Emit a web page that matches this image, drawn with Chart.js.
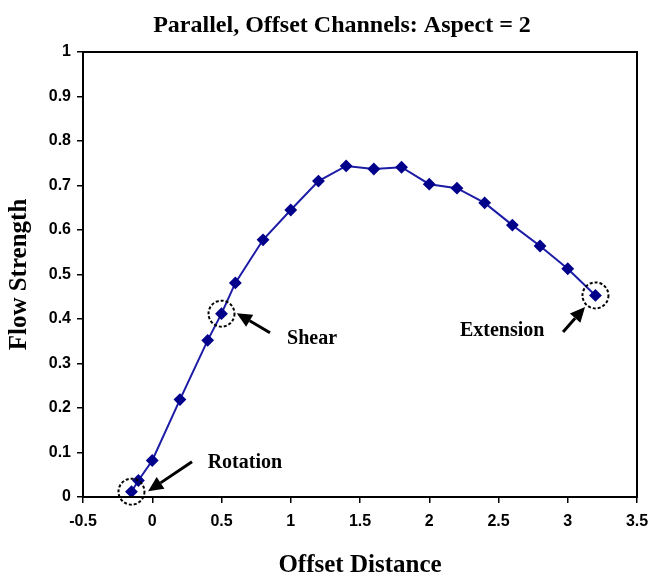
<!DOCTYPE html>
<html>
<head>
<meta charset="utf-8">
<script src="https://cdn.jsdelivr.net/npm/chart.js@4.4.1/dist/chart.umd.min.js"></script>
<style>
  html, body { margin: 0; padding: 0; background: #fff; }
</style>
</head>
<body>
<canvas id="grafica" width="651" height="582"></canvas>
<script>
const offsetDistance = [-0.15, -0.1, 0, 0.2, 0.4, 0.5, 0.6, 0.8, 1.0, 1.2, 1.4, 1.6, 1.8, 2.0, 2.2, 2.4, 2.6, 2.8, 3.0, 3.2];
const flowStrength = [0.012, 0.037, 0.082, 0.219, 0.352, 0.412, 0.481, 0.578, 0.645, 0.71, 0.744, 0.737, 0.741, 0.703, 0.694, 0.661, 0.611, 0.564, 0.513, 0.453];
const xTicks = [-0.5, 0, 0.5, 1, 1.5, 2, 2.5, 3, 3.5];
const yTicks = [0, 0.1, 0.2, 0.3, 0.4, 0.5, 0.6, 0.7, 0.8, 0.9, 1];
const markedPoints = [0, 5, 19];
const markLabels = ['Rotation', 'Shear', 'Extension'];

const serif = '"Liberation Serif", "Times New Roman", serif';
const sans = '"Liberation Sans", Arial, sans-serif';

// anotaciones: circulo punteado + flecha + texto (en unidades de datos)
const notas = [
  { text: { x: 0.40, y: 0.077 }, tail: { x: 0.287, y: 0.079 }, tip: { x: -0.03, y: 0.013 } },
  { text: { x: 0.973, y: 0.355 }, tail: { x: 0.85, y: 0.369 }, tip: { x: 0.61, y: 0.413 } },
  { text: { x: 2.222, y: 0.373 }, tail: { x: 2.966, y: 0.371 }, tip: { x: 3.125, y: 0.427 } }
];

function flecha(ctx, x1, y1, x2, y2) {
  const ang = Math.atan2(y2 - y1, x2 - x1);
  const len = 15, ancho = 7;
  const bx = x2 - len * Math.cos(ang), by = y2 - len * Math.sin(ang);
  ctx.beginPath();
  ctx.moveTo(x1, y1);
  ctx.lineTo(bx, by);
  ctx.lineWidth = 3;
  ctx.stroke();
  ctx.beginPath();
  ctx.moveTo(x2, y2);
  ctx.lineTo(bx + ancho * Math.sin(ang), by - ancho * Math.cos(ang));
  ctx.lineTo(bx - ancho * Math.sin(ang), by + ancho * Math.cos(ang));
  ctx.closePath();
  ctx.fill();
}

const extras = {
  id: 'extras',
  afterDraw(chart) {
    const { ctx, chartArea: a, scales: { x, y } } = chart;
    ctx.save();
    // marco del area
    ctx.strokeStyle = '#000';
    ctx.lineWidth = 2;
    ctx.strokeRect(a.left, a.top, a.right - a.left, a.bottom - a.top);

    // titulo
    ctx.fillStyle = '#000';
    ctx.font = 'bold 24px ' + serif;
    ctx.textAlign = 'center';
    ctx.textBaseline = 'middle';
    ctx.fillText('Parallel, Offset Channels: Aspect = 2', (a.left + a.right) / 2 - 18, a.top - 26);

    // anotaciones
    ctx.textAlign = 'left';
    ctx.font = 'bold 20px ' + serif;
    markedPoints.forEach((idx, i) => {
      const px = x.getPixelForValue(offsetDistance[idx]);
      const py = y.getPixelForValue(flowStrength[idx]);
      ctx.setLineDash([3, 2]);
      ctx.lineWidth = 2;
      ctx.beginPath();
      ctx.arc(px, py, 13, 0, Math.PI * 2);
      ctx.stroke();
      ctx.setLineDash([]);
      const n = notas[i];
      flecha(ctx, x.getPixelForValue(n.tail.x), y.getPixelForValue(n.tail.y),
        x.getPixelForValue(n.tip.x), y.getPixelForValue(n.tip.y));
      ctx.fillText(markLabels[i], x.getPixelForValue(n.text.x), y.getPixelForValue(n.text.y));
    });
    ctx.restore();
  }
};

const ctx = document.getElementById('grafica').getContext('2d');

let chart = new Chart(ctx, {
  type: 'scatter',
  data: {
    datasets: [{
      label: 'Flow Strength',
      data: offsetDistance.map((v, i) => ({ x: v, y: flowStrength[i] })),
      showLine: true,
      borderColor: '#1c1ca6',
      borderWidth: 2,
      pointStyle: 'rectRot',
      pointRadius: 5,
      pointBackgroundColor: '#00008b',
      pointBorderColor: '#00008b',
      tension: 0
    }]
  },
  options: {
    responsive: false,
    animation: false,
    devicePixelRatio: 1,
    layout: { padding: { top: 52, right: 14, left: 0, bottom: 0 } },
    plugins: {
      legend: { display: false },
      tooltip: { enabled: false }
    },
    scales: {
      x: {
        type: 'linear',
        min: -0.5,
        max: 3.5,
        afterBuildTicks: axis => { axis.ticks = xTicks.map(v => ({ value: v })); },
        afterFit: axis => {
          axis.height = 85;
          axis.paddingLeft = 0;
          axis.paddingRight = 0;
        },
        grid: { drawOnChartArea: false, tickLength: 6, color: '#000', lineWidth: 1.5 },
        border: { display: true, color: '#000', width: 2 },
        ticks: {
          color: '#000',
          font: { family: sans, weight: 'bold', size: 16 },
          padding: 9,
          maxRotation: 0,
          autoSkip: false,
          callback: v => String(v)
        },
        title: {
          display: true,
          text: 'Offset Distance',
          color: '#000',
          font: { family: serif, weight: 'bold', size: 25 },
          padding: { top: 0, bottom: 1 }
        }
      },
      y: {
        type: 'linear',
        min: 0,
        max: 1,
        afterBuildTicks: axis => { axis.ticks = yTicks.map(v => ({ value: v })); },
        afterFit: axis => {
          axis.width = 83;
          axis.paddingTop = 0;
          axis.paddingBottom = 0;
        },
        grid: { drawOnChartArea: false, tickLength: 6, color: '#000', lineWidth: 1.5 },
        border: { display: true, color: '#000', width: 2 },
        ticks: {
          color: '#000',
          font: { family: sans, weight: 'bold', size: 16 },
          padding: 6,
          autoSkip: false,
          callback: v => String(v)
        },
        title: {
          display: true,
          text: 'Flow Strength',
          color: '#000',
          font: { family: serif, weight: 'bold', size: 25 },
          padding: { top: 5, bottom: 0 }
        }
      }
    }
  },
  plugins: [extras]
});
</script>
</body>
</html>
